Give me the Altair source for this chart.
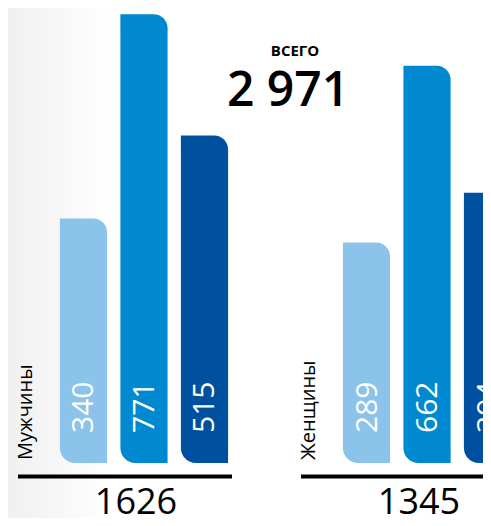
import altair as alt
import pandas as pd

groups = ["Мужчины", "Женщины"]
series = ["s1", "s2", "s3"]
men = [340, 771, 515]
women = [289, 662, 394]
colors = ["#8CC3EA", "#0088D0", "#0050A0"]
total_label = "ВСЕГО"

rows = []
for g, vals in zip(groups, [men, women]):
    for s, v in zip(series, vals):
        rows.append({"group": g, "series": s, "value": v})
df = pd.DataFrame(rows)
tot = pd.DataFrame({"group": groups, "total": [sum(men), sum(women)]})
grand = sum(men) + sum(women)
grand_text = f"{grand:,}".replace(",", " ")

FONT = "Open Sans"
ymin = -176
xscale = alt.Scale(domain=groups, range=[45.25, 509.75], paddingInner=0.3587, paddingOuter=0)
yscale = alt.Scale(domain=[ymin, 784], range=[455, 0], zero=False, nice=False)
offscale = alt.Scale(domain=series, paddingInner=0.22, paddingOuter=0.11)
color = alt.Color("series:N", scale=alt.Scale(domain=series, range=colors), legend=None)

X = alt.X("group:N", scale=xscale, axis=None, sort=groups)
XO = alt.XOffset("series:N", scale=offscale, sort=series)
YB = alt.YDatum(ymin, scale=yscale, axis=None)

bg = alt.Chart(pd.DataFrame({"a": [0]})).mark_rect(
    color=alt.LinearGradient(
        gradient="linear",
        stops=[alt.GradientStop(color="#f0f0f0", offset=0), alt.GradientStop(color="#ffffff", offset=1)],
        x1=0, x2=1, y1=0, y2=0,
    )
).encode(x=alt.value(0), x2=alt.value(105), y=alt.value(0), y2=alt.value(510))

base = alt.Chart(df)
bars = base.mark_bar(cornerRadiusTopRight=14, cornerRadiusBottomLeft=15, clip=True).encode(
    x=X, xOffset=XO,
    y=alt.Y("value:Q", scale=yscale, axis=None),
    y2=alt.datum(ymin),
    color=color,
)

vlabels = base.mark_text(
    angle=270, align="left", baseline="middle", dx=30, dy=1,
    fontSize=30, color="white", font=FONT, clip=True,
).encode(x=X, xOffset=XO, y=YB, text=alt.Text("value:Q", format="d"))

glabels = alt.Chart(tot).mark_text(
    angle=270, align="left", baseline="middle", dx=3, dy=-118,
    fontSize=20, font=FONT, color="black",
).encode(x=X, y=YB, text="group:N")

ticks = alt.Chart(tot).mark_tick(
    orient="horizontal", size=214, thickness=4, color="black", opacity=1,
    xOffset=-19, yOffset=13.5, clip=True,
).encode(x=X, y=YB)

totals = alt.Chart(tot).mark_text(
    fontSize=36, fontWeight=500, baseline="middle", dx=-8, dy=40, font=FONT, color="black",
).encode(x=X, y=YB, text=alt.Text("total:Q", format="d"))

hdr = alt.Chart(pd.DataFrame({"t": [total_label]})).mark_text(
    fontSize=15, fontWeight="bold", font=FONT, color="black", baseline="middle",
).encode(x=alt.value(287), y=alt.value(43), text="t:N")

big = alt.Chart(pd.DataFrame({"t": [grand_text]})).mark_text(
    fontSize=48, fontWeight=600, font=FONT, color="black", baseline="middle",
).encode(x=alt.value(280), y=alt.value(83.5), text="t:N")

chart = alt.layer(bg, bars, vlabels, glabels, ticks, totals, hdr, big).properties(
    width=475, height=510,
    autosize=alt.AutoSizeParams(type="none"),
    padding=0,
).configure_view(stroke=None)

chart.save("out.html", embed_options={"renderer": "svg", "actions": False})
